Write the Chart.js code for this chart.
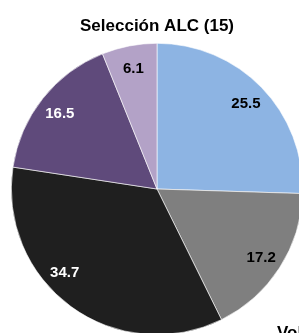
<!DOCTYPE html>
<html>
<head>
<meta charset="utf-8">
<script src="https://cdn.jsdelivr.net/npm/chart.js@4.4.1/dist/chart.umd.min.js"></script>
<style>
  html, body { margin: 0; padding: 0; background: #fff; overflow: hidden; width: 299px; height: 333px; }
  #wrap { position: absolute; left: 0; top: 0; width: 320px; height: 340px; }
  #note { position: absolute; left: 277px; top: 323px; font: bold 17px "Liberation Sans", Arial, sans-serif; color: #000; white-space: nowrap; }
</style>
</head>
<body>
<div id="wrap"><canvas id="chart1"></canvas></div>
<div id="note">Volumen</div>
<script>
var title = 'Selección ALC (15)';
var labels = ['A', 'B', 'C', 'D', 'E'];
var values = [25.5, 17.2, 34.7, 16.5, 6.1];
var colors = ['#8db4e3', '#7f7f7f', '#1f1f1f', '#5f4a7b', '#b3a2c7'];
var labelColors = ['#000', '#000', '#fff', '#fff', '#000'];
// excel "best fit" pushes a couple of labels off the slice middle (degrees)
var labelShift = [0, 0, 12, 0, 0];

var valueLabels = {
  id: 'valueLabels',
  afterDatasetsDraw: function (chart) {
    var ctx = chart.ctx;
    var meta = chart.getDatasetMeta(0);
    ctx.save();
    ctx.font = 'bold 15px "Liberation Sans", Arial, sans-serif';
    ctx.textAlign = 'center';
    ctx.textBaseline = 'middle';
    meta.data.forEach(function (arc, i) {
      var a = (arc.startAngle + arc.endAngle) / 2 + labelShift[i] * Math.PI / 180;
      var r = arc.outerRadius * 0.85;
      ctx.fillStyle = labelColors[i];
      ctx.fillText(values[i].toFixed(1), arc.x + Math.cos(a) * r, arc.y + Math.sin(a) * r + 1.5);
    });
    ctx.restore();
  }
};

new Chart(document.getElementById('chart1'), {
  type: 'pie',
  data: {
    labels: labels,
    datasets: [{
      data: values,
      backgroundColor: colors,
      borderColor: '#ffffff',
      borderWidth: 0.6
    }]
  },
  options: {
    responsive: true,
    maintainAspectRatio: false,
    animation: false,
    layout: { padding: { left: 11, right: 17, top: 0, bottom: 5 } },
    plugins: {
      legend: { display: false },
      tooltip: { enabled: false },
      title: {
        display: true,
        text: title,
        color: '#000',
        font: { family: '"Liberation Sans", Arial, sans-serif', size: 17, weight: 'bold', lineHeight: 1.2 },
        padding: { top: 16, bottom: 6.6 }
      }
    }
  },
  plugins: [valueLabels]
});
</script>
</body>
</html>
